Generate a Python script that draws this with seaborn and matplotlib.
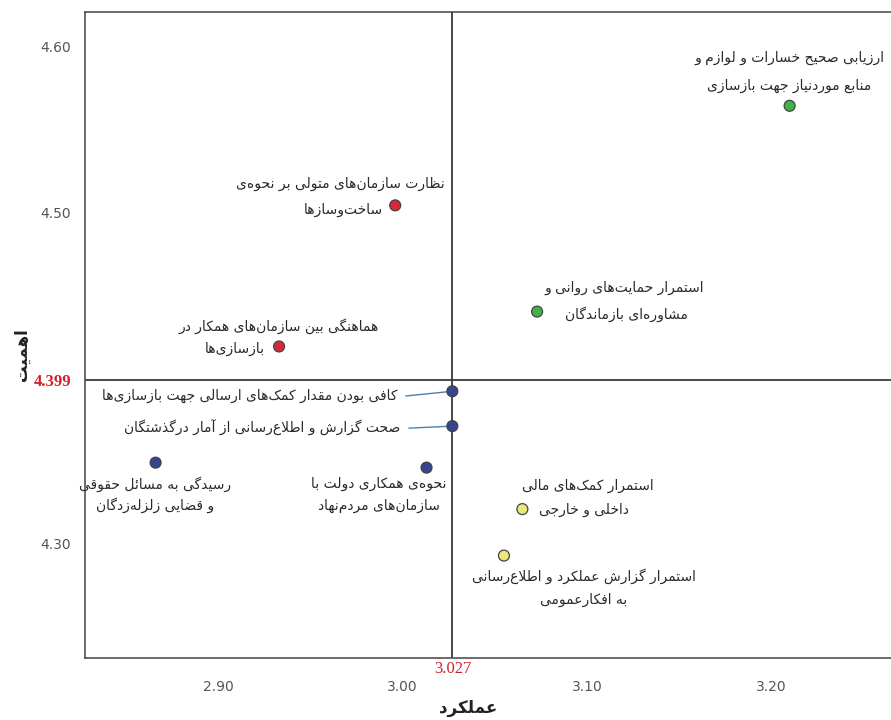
import matplotlib
matplotlib.use("Agg")
import matplotlib.pyplot as plt
import seaborn as sns
import pandas as pd

# ---------------- data ----------------
performance = [3.210, 2.996, 3.073, 2.933, 3.027, 3.027, 2.866, 3.013, 3.065, 3.055]
importance = [4.564, 4.504, 4.440, 4.419, 4.392, 4.371, 4.349, 4.346, 4.321, 4.293]
group = ["g", "r", "g", "r", "b", "b", "b", "b", "y", "y"]
labels = [
    "ارزیابی صحیح خسارات و لوازم و\nمنابع موردنیاز جهت بازسازی",
    "نظارت سازمان‌های متولی بر نحوه‌ی\nساخت‌وسازها",
    "استمرار حمایت‌های روانی و\nمشاوره‌ای بازماندگان",
    "هماهنگی بین سازمان‌های همکار در\nبازسازی‌ها",
    "کافی بودن مقدار کمک‌های ارسالی جهت بازسازی‌ها",
    "صحت گزارش و اطلاع‌رسانی از آمار درگذشتگان",
    "رسیدگی به مسائل حقوقی\nو قضایی زلزله‌زدگان",
    "نحوه‌ی همکاری دولت با\nسازمان‌های مردم‌نهاد",
    "استمرار کمک‌های مالی\nداخلی و خارجی",
    "استمرار گزارش عملکرد و اطلاع‌رسانی\nبه افکارعمومی",
]
mean_perf = 3.027
mean_imp = 4.399
x_ticks = [2.90, 3.00, 3.10, 3.20]
y_ticks = [4.30, 4.50, 4.60]
x_title = "عملکرد"
y_title = "اهمیت"

# label line positions (layout)
label_pos = [
    [(3.2098, 4.5928), (3.2098, 4.5759)],
    [(2.9663, 4.5169), (2.9679, 4.5012)],
    [(3.1201, 4.4542), (3.1217, 4.4386)],
    [(2.9326, 4.4313), (2.9092, 4.4175)],
    [(2.9973, 4.3892)],
    [(2.9989, 4.3699)],
    [(2.8658, 4.3361), (2.8658, 4.3235)],
    [(2.9870, 4.3361), (2.9870, 4.3229)],
    [(3.1005, 4.3349), (3.0984, 4.3205)],
    [(3.0984, 4.2807), (3.0984, 4.2663)],
]

# ---------------- minimal Persian shaping ----------------
F = {  # isolated, final, initial, medial
    'ا': ('\uFE8D', '\uFE8E', None, None), 'آ': ('\uFE81', '\uFE82', None, None),
    'ب': ('\uFE8F', '\uFE90', '\uFE91', '\uFE92'), 'ت': ('\uFE95', '\uFE96', '\uFE97', '\uFE98'),
    'ث': ('\uFE99', '\uFE9A', '\uFE9B', '\uFE9C'), 'ج': ('\uFE9D', '\uFE9E', '\uFE9F', '\uFEA0'),
    'ح': ('\uFEA1', '\uFEA2', '\uFEA3', '\uFEA4'), 'خ': ('\uFEA5', '\uFEA6', '\uFEA7', '\uFEA8'),
    'د': ('\uFEA9', '\uFEAA', None, None), 'ذ': ('\uFEAB', '\uFEAC', None, None),
    'ر': ('\uFEAD', '\uFEAE', None, None), 'ز': ('\uFEAF', '\uFEB0', None, None),
    'ژ': ('\uFB8A', '\uFB8B', None, None),
    'س': ('\uFEB1', '\uFEB2', '\uFEB3', '\uFEB4'), 'ش': ('\uFEB5', '\uFEB6', '\uFEB7', '\uFEB8'),
    'ص': ('\uFEB9', '\uFEBA', '\uFEBB', '\uFEBC'), 'ض': ('\uFEBD', '\uFEBE', '\uFEBF', '\uFEC0'),
    'ط': ('\uFEC1', '\uFEC2', '\uFEC3', '\uFEC4'), 'ظ': ('\uFEC5', '\uFEC6', '\uFEC7', '\uFEC8'),
    'ع': ('\uFEC9', '\uFECA', '\uFECB', '\uFECC'), 'غ': ('\uFECD', '\uFECE', '\uFECF', '\uFED0'),
    'ف': ('\uFED1', '\uFED2', '\uFED3', '\uFED4'), 'ق': ('\uFED5', '\uFED6', '\uFED7', '\uFED8'),
    'ک': ('\uFB8E', '\uFB8F', '\uFB90', '\uFB91'), 'گ': ('\uFB92', '\uFB93', '\uFB94', '\uFB95'),
    'ل': ('\uFEDD', '\uFEDE', '\uFEDF', '\uFEE0'), 'م': ('\uFEE1', '\uFEE2', '\uFEE3', '\uFEE4'),
    'ن': ('\uFEE5', '\uFEE6', '\uFEE7', '\uFEE8'), 'ه': ('\uFEE9', '\uFEEA', '\uFEEB', '\uFEEC'),
    'و': ('\uFEED', '\uFEEE', None, None), 'ی': ('\uFBFC', '\uFBFD', '\uFBFE', '\uFBFF'),
    'پ': ('\uFB56', '\uFB57', '\uFB58', '\uFB59'), 'چ': ('\uFB7A', '\uFB7B', '\uFB7C', '\uFB7D'),
    'ئ': ('\uFE89', '\uFE8A', '\uFE8B', '\uFE8C'),
}
LAMALEF = {'ا': ('\uFEFB', '\uFEFC'), 'آ': ('\uFEF5', '\uFEF6')}


def shape_line(s):
    out = []
    prev_join = False
    i = 0
    n = len(s)
    while i < n:
        c = s[i]
        if c == '\u200c':
            prev_join = False
            i += 1
            continue
        if c not in F:
            out.append(c)
            prev_join = False
            i += 1
            continue
        if c == 'ل' and i + 1 < n and s[i + 1] in LAMALEF:
            lig = LAMALEF[s[i + 1]]
            out.append(lig[1] if prev_join else lig[0])
            prev_join = False
            i += 2
            continue
        f = F[c]
        nxt = s[i + 1] if i + 1 < n else ''
        can_next = f[2] is not None and nxt in F
        if prev_join and can_next:
            g = f[3]
        elif prev_join:
            g = f[1]
        elif can_next:
            g = f[2]
        else:
            g = f[0]
        out.append(g)
        prev_join = f[2] is not None
        i += 1
    return ''.join(reversed(out))


# ---------------- plot ----------------
sns.set_style("white")
plt.rcParams['font.family'] = ['DejaVu Sans']

df = pd.DataFrame({"perf": performance, "imp": importance, "grp": group})
palette = {"g": "#3db34a", "r": "#d7283a", "b": "#34468f", "y": "#ece77a"}

fig = plt.figure(figsize=(8.91, 7.2), dpi=100)
ax = fig.add_axes([85 / 891, 62 / 720, (891 - 85) / 891, (708 - 62) / 720])

ax.axvline(mean_perf, color="#3a3a3a", lw=1.3, zorder=1)
ax.axhline(mean_imp, color="#3a3a3a", lw=1.3, zorder=1)

sns.scatterplot(data=df, x="perf", y="imp", hue="grp", palette=palette, s=62,
                edgecolor="#444444", linewidth=0.9, legend=False, ax=ax, zorder=3)

ax.set_xlim(2.8277, 3.265)
ax.set_ylim(4.2313, 4.6205)

txt_color = "#2a2a2a"
fs = 10
for k, (lab, pos) in enumerate(zip(labels, label_pos)):
    lines = lab.split("\n")
    single = len(lines) == 1
    for line, (tx, ty) in zip(lines, pos):
        ax.text(tx, ty, shape_line(line), ha="right" if single else "center", va="center",
                fontsize=fs, color=txt_color, zorder=4)
    if single:
        ax.annotate("", xy=(performance[k], importance[k]), xytext=(pos[0][0] + 0.003, pos[0][1] - 0.0002),
                    arrowprops=dict(arrowstyle="-", color="#4d7fb0", lw=1.0), zorder=2)

ax.set_xticks(x_ticks)
ax.set_xticklabels([f"{v:.2f}" for v in x_ticks])
ax.set_yticks(y_ticks + [mean_imp])
ax.set_yticklabels([f"{v:.2f}" for v in y_ticks] + [f"{mean_imp:.3f}"])
for t in ax.get_yticklabels():
    t.set_color("#555555")
    t.set_fontsize(10)
ylab = ax.get_yticklabels()[-1]
ylab.set_color("#d41f2a")
ylab.set_fontfamily("Liberation Serif")
ylab.set_fontweight("bold")
ylab.set_fontsize(12)
for t in ax.get_xticklabels():
    t.set_color("#555555")
    t.set_fontsize(10)

ax.tick_params(axis="both", direction="out", length=7, width=1.1, color="#444444", pad=3)
ax.tick_params(axis="x", pad=9)
ax.text(mean_perf + 0.0002, -0.005, f"{mean_perf:.3f}", transform=ax.get_xaxis_transform(),
        ha="center", va="top", color="#d41f2a", fontsize=12, family="Liberation Serif")

for side in ["left", "top", "bottom"]:
    ax.spines[side].set_color("#444444")
    ax.spines[side].set_linewidth(1.1)
ax.spines["right"].set_visible(False)

ax.set_xlabel(shape_line(x_title), fontsize=12, fontweight="bold", color="#222222")
ax.xaxis.set_label_coords(0.475, -0.078)
ax.xaxis.label.set_va("center")
ax.set_ylabel(shape_line(y_title), fontsize=12, fontweight="bold", color="#222222")
ax.yaxis.set_label_coords(-0.078, 0.47)
ax.yaxis.label.set_va("center")

fig.savefig("out.png", dpi=100)
